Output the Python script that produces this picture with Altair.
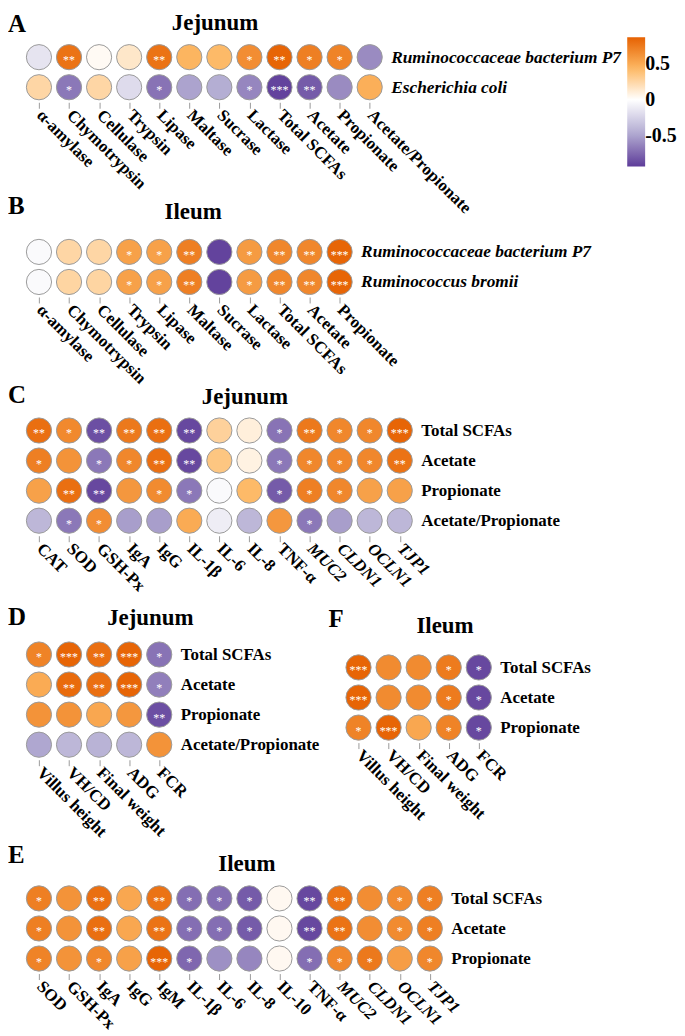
import altair as alt
import pandas as pd

FONT = "Liberation Serif"
STEP = 30.2

# ---------------- Panel A (Jejunum, bacteria vs digestive indices) ----------------
A_cols = ["α-amylase", "Chymotrypsin", "Cellulase", "Trypsin", "Lipase", "Maltase",
          "Sucrase", "Lactase", "Total SCFAs", "Acetate", "Propionate", "Acetate/Propionate"]
A_rows = ["Ruminococcaceae bacterium P7", "Escherichia coli"]
A_r = [[-0.15, 0.78, 0.03, 0.15, 0.78, 0.45, 0.42, 0.65, 0.85, 0.72, 0.70, -0.60],
       [0.25, -0.68, 0.25, -0.20, -0.70, -0.50, -0.45, -0.62, -0.90, -0.80, -0.60, 0.48]]
A_sig = [["", "**", "", "", "**", "", "", "*", "**", "*", "*", ""],
         ["", "*", "", "", "*", "", "", "*", "***", "**", "", ""]]

# ---------------- Panel B (Ileum) ----------------
B_cols = ["α-amylase", "Chymotrypsin", "Cellulase", "Trypsin", "Lipase", "Maltase",
          "Sucrase", "Lactase", "Total SCFAs", "Acetate", "Propionate"]
B_rows = ["Ruminococcaceae bacterium P7", "Ruminococcus bromii"]
B_r = [[-0.03, 0.25, 0.25, 0.55, 0.55, 0.72, -0.90, 0.58, 0.68, 0.68, 0.85],
       [-0.03, 0.26, 0.26, 0.55, 0.55, 0.72, -0.90, 0.58, 0.68, 0.68, 0.85]]
B_sig = [["", "", "", "*", "*", "**", "", "*", "**", "**", "***"],
         ["", "", "", "*", "*", "**", "", "*", "**", "**", "***"]]

# ---------------- Panel C (Jejunum, SCFAs vs immune/barrier) ----------------
C_cols = ["CAT", "SOD", "GSH-Px", "IgA", "IgG", "IL-1β", "IL-6", "IL-8", "TNF-α",
          "MUC2", "CLDN1", "OCLN1", "TJP1"]
C_rows = ["Total SCFAs", "Acetate", "Propionate", "Acetate/Propionate"]
C_r = [[0.80, 0.67, -0.85, 0.75, 0.80, -0.88, 0.28, 0.10, -0.70, 0.75, 0.68, 0.68, 0.85],
       [0.72, 0.62, -0.68, 0.68, 0.80, -0.88, 0.35, 0.08, -0.68, 0.68, 0.68, 0.68, 0.78],
       [0.55, 0.80, -0.88, 0.60, 0.66, -0.68, -0.03, 0.42, -0.80, 0.72, 0.68, 0.55, 0.55],
       [-0.40, -0.68, 0.65, -0.52, -0.52, 0.50, -0.10, -0.40, 0.60, -0.68, -0.52, -0.40, -0.40]]
C_sig = [["**", "*", "**", "**", "**", "**", "", "", "*", "**", "*", "*", "***"],
         ["*", "", "*", "*", "**", "**", "", "", "*", "*", "*", "*", "**"],
         ["", "**", "**", "", "*", "*", "", "", "*", "*", "*", "", ""],
         ["", "*", "*", "", "", "", "", "", "", "*", "", "", ""]]

# ---------------- Panel D (Jejunum, SCFAs vs growth) ----------------
D_cols = ["Villus height", "VH/CD", "Final weight", "ADG", "FCR"]
D_rows = ["Total SCFAs", "Acetate", "Propionate", "Acetate/Propionate"]
D_r = [[0.70, 0.85, 0.80, 0.85, -0.70],
       [0.50, 0.82, 0.80, 0.85, -0.65],
       [0.62, 0.62, 0.52, 0.60, -0.85],
       [-0.48, -0.40, -0.42, -0.40, 0.62]]
D_sig = [["*", "***", "**", "***", "*"],
         ["", "**", "**", "***", "*"],
         ["", "", "", "", "**"],
         ["", "", "", "", ""]]

# ---------------- Panel F (Ileum, SCFAs vs growth) ----------------
F_cols = ["Villus height", "VH/CD", "Final weight", "ADG", "FCR"]
F_rows = ["Total SCFAs", "Acetate", "Propionate"]
F_r = [[0.85, 0.66, 0.66, 0.74, -0.88],
       [0.85, 0.66, 0.66, 0.74, -0.88],
       [0.70, 0.85, 0.52, 0.70, -0.88]]
F_sig = [["***", "", "", "*", "*"],
         ["***", "", "", "*", "*"],
         ["*", "***", "", "*", "*"]]

# ---------------- Panel E (Ileum, SCFAs vs immune/barrier) ----------------
E_cols = ["SOD", "GSH-Px", "IgA", "IgG", "IgM", "IL-1β", "IL-6", "IL-8", "IL-10",
          "TNF-α", "MUC2", "CLDN1", "OCLN1", "TJP1"]
E_rows = ["Total SCFAs", "Acetate", "Propionate"]
E_r = [[0.72, 0.62, 0.80, 0.52, 0.78, -0.72, -0.72, -0.80, 0.04, -0.88, 0.78, 0.65, 0.66, 0.72],
       [0.72, 0.62, 0.80, 0.52, 0.78, -0.72, -0.72, -0.80, 0.04, -0.88, 0.78, 0.65, 0.66, 0.72],
       [0.70, 0.62, 0.68, 0.55, 0.85, -0.75, -0.58, -0.62, 0.04, -0.72, 0.68, 0.75, 0.57, 0.68]]
E_sig = [["*", "", "**", "", "**", "*", "*", "*", "", "**", "**", "", "*", "*"],
         ["*", "", "**", "", "**", "*", "*", "*", "", "**", "**", "", "*", "*"],
         ["*", "", "*", "", "***", "*", "", "", "", "*", "*", "*", "", "*"]]

ITALIC_GENES = ["MUC2", "CLDN1", "OCLN1", "TJP1"]

COLOR = alt.Scale(domain=[-0.93, -0.465, 0, 0.435, 0.87],
                  range=["#5E3C99", "#B2ABD2", "#FFFFFF", "#FDB863", "#E66101"],
                  interpolate="rgb")
LEGEND = alt.Legend(
    orient="none", legendX=606, legendY=-5, direction="vertical",
    gradientLength=130, gradientThickness=18, gradientStrokeWidth=0,
    title=None, values=[-0.5, 0, 0.5],
    labelFont=FONT, labelFontSize=20, labelFontWeight="bold", labelColor="black",
    labelOffset=0,
    labelExpr="datum.value == 0 ? '0' : (datum.value < 0 ? '-' + format(-datum.value, '.1f') : format(datum.value, '.1f'))",
)


def make_df(rows, cols, r, sig):
    recs = []
    for i, rn in enumerate(rows):
        for j, cn in enumerate(cols):
            recs.append({"row": rn, "col": cn, "r": r[i][j], "sig": sig[i][j]})
    return pd.DataFrame(recs)


def panel(rows, cols, r, sig, letter, title, t_x, t_y, l_x, l_y,
          italic_rows=False, extra_top=0.0):
    df = make_df(rows, cols, r, sig)
    n = len(rows)
    h = STEP * n + extra_top
    if extra_top > 0:
        pad = (h / STEP - (n - 1)) / 2
        total = h - STEP * (n - 1)
        ysc = alt.Scale(type="point", padding=pad, align=(extra_top + STEP / 2) / total)
    else:
        ysc = alt.Scale(type="point", padding=0.5)
    xsc = alt.Scale(type="point", padding=0.5)
    test = "indexof(" + str(ITALIC_GENES) + ", datum.value) >= 0"
    xaxis = alt.Axis(
        orient="bottom", title=None, domain=False, grid=False,
        tickColor="#9a9a9a", tickSize=6, tickWidth=1,
        labelAngle=45, labelAlign="left", labelBaseline="middle",
        labelFont=FONT, labelFontSize=17, labelFontWeight="bold", labelColor="black",
        labelPadding=4, labelLimit=400,
        labelFontStyle={"condition": {"test": test, "value": "italic"}, "value": "normal"},
    )
    yaxis = alt.Axis(
        orient="right", title=None, domain=False, grid=False, ticks=False,
        labelFont=FONT, labelFontSize=17.4 if italic_rows else 17, labelFontWeight="bold",
        labelColor="black", labelFontStyle="italic" if italic_rows else "normal",
        labelPadding=6, labelLimit=400,
    )
    base = alt.Chart(df).encode(
        x=alt.X("col:N", sort=cols, scale=xsc, axis=xaxis),
        y=alt.Y("row:N", sort=rows, scale=ysc, axis=yaxis),
    )
    circles = base.mark_circle(size=640, opacity=1, stroke="#9a9a9a", strokeWidth=1).encode(
        color=alt.Color("r:Q", scale=COLOR, legend=LEGEND)
    )
    stars = base.mark_text(color="white", font=FONT, fontSize=12, baseline="middle", dy=3).encode(
        text="sig:N"
    )
    let = alt.Chart(pd.DataFrame({"t": [letter]})).mark_text(
        font=FONT, fontSize=25, fontWeight="bold", align="left", baseline="alphabetic", color="black"
    ).encode(text="t:N", x=alt.value(l_x), y=alt.value(l_y))
    ttl = alt.Chart(pd.DataFrame({"t": [title]})).mark_text(
        font=FONT, fontSize=23, fontWeight="bold", align="center", baseline="alphabetic", color="black"
    ).encode(text="t:N", x=alt.value(t_x), y=alt.value(t_y))
    return alt.layer(circles, stars, let, ttl).properties(width=STEP * len(cols), height=h)


A = panel(A_rows, A_cols, A_r, A_sig, "A", "Jejunum", 192, -12, -16, -10, italic_rows=True)
B = panel(B_rows, B_cols, B_r, B_sig, "B", "Ileum", 170, -18, -16, -23, italic_rows=True)
C = panel(C_rows, C_cols, C_r, C_sig, "C", "Jejunum", 222, -12, -16, -13)
D = panel(D_rows, D_cols, D_r, D_sig, "D", "Jejunum", 127, -15, -16, -15)
F = panel(F_rows, F_cols, F_r, F_sig, "F", "Ileum", 102, -7, -15, -13, extra_top=13)
E = panel(E_rows, E_cols, E_r, E_sig, "E", "Ileum", 224, -12, -16, -20)

AB = alt.vconcat(A, B, spacing=134.6, bounds="flush")
ABC = alt.vconcat(AB, C, spacing=375, bounds="flush")
DF = alt.hconcat(D, F, spacing=170, bounds="flush")
ABCDF = alt.vconcat(ABC, DF, spacing=600, bounds="flush")
chart = alt.vconcat(ABCDF, E, spacing=845, bounds="flush").properties(
    padding={"left": 0, "top": 2, "right": 0, "bottom": 0}, background="white"
).configure_view(strokeOpacity=0)

chart.save("out.html", embed_options={"renderer": "svg", "actions": False})
